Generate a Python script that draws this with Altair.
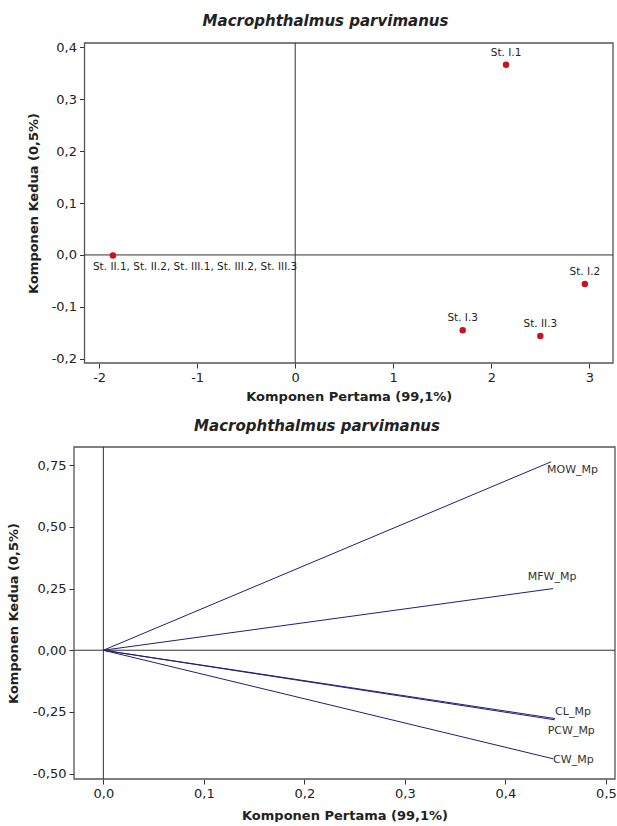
import altair as alt
import pandas as pd

# ---------------- data: top panel (scores) ----------------
station_labels = ["St. I.1", "St. I.2", "St. I.3", "St. II.3",
                  "St. II.1, St. II.2, St. III.1, St. III.2, St. III.3"]
score_pc1 = [2.15, 2.954, 1.708, 2.50, -1.859]
score_pc2 = [0.366, -0.056, -0.145, -0.156, -0.001]

# ---------------- data: bottom panel (loadings) ----------------
variables = ["MOW_Mp", "MFW_Mp", "CL_Mp", "PCW_Mp", "CW_Mp"]
load_pc1 = [0.4454, 0.4474, 0.4494, 0.4490, 0.4474]
load_pc2 = [0.764, 0.250, -0.277, -0.282, -0.440]

# axis domains and ticks
top_x_domain = [-2.149, 3.241]
top_y_domain = [-0.208, 0.408]
top_x_ticks = [-2, -1, 0, 1, 2, 3]
top_y_ticks = [-0.2, -0.1, 0.0, 0.1, 0.2, 0.3, 0.4]
bot_x_domain = [-0.0292, 0.509]
bot_y_domain = [-0.522, 0.824]
bot_x_ticks = [0.0, 0.1, 0.2, 0.3, 0.4, 0.5]
bot_y_ticks = [-0.5, -0.25, 0.0, 0.25, 0.5, 0.75]

TITLE = "Macrophthalmus parvimanus"
XTITLE = "Komponen Pertama (99,1%)"
YTITLE = "Komponen Kedua (0,5%)"

FONT = "DejaVu Sans"
TXT = "#222222"
FRAME = "#555555"
W = 541


def num_expr(fmt):
    return ("(datum.value < 0 ? '-' : '') + "
            f"replace(format(abs(datum.value), '{fmt}'), '.', ',')")


def axis(values, fmt, title, orient, **kw):
    return alt.Axis(values=values, labelExpr=num_expr(fmt), title=title,
                    orient=orient, domain=False, grid=False, ticks=True,
                    tickSize=5, tickColor="#333333", tickWidth=1,
                    labelPadding=3, labelFont=FONT, labelFontSize=13,
                    labelColor=TXT, labelFlush=False, labelOverlap=False,
                    titleFont=FONT, titleFontSize=13, titleFontWeight="bold",
                    titleColor=TXT, **kw)


def frame_df(xd, yd):
    return pd.DataFrame({"x0": [xd[0]], "x1": [xd[1]], "y0": [yd[0]],
                         "y1": [yd[1]], "z": [0.0]})


# ================= top panel =================
tx_scale = alt.Scale(domain=top_x_domain, nice=False, zero=False,
                     rangeMin=10.5, rangeMax=539)
ty_scale = alt.Scale(domain=top_y_domain, nice=False, zero=False)
tx_axis = axis(top_x_ticks, "d", XTITLE, "bottom", titlePadding=6)
ty_axis = axis(top_y_ticks, ".1f", YTITLE, "left", offset=-10.5,
               titleX=-51, titleBaseline="middle", titleAngle=270)


def TX(f):
    return alt.X(f, type="quantitative", scale=tx_scale, axis=tx_axis)


def TY(f):
    return alt.Y(f, type="quantitative", scale=ty_scale, axis=ty_axis)


tf = alt.Chart(frame_df(top_x_domain, top_y_domain))
t_frame = tf.mark_rect(fill="transparent", stroke=FRAME, strokeWidth=1.3).encode(
    x=TX("x0"), x2="x1", y=TY("y0"), y2="y1")
t_vline = tf.mark_rule(color="#333333", strokeWidth=1).encode(
    x=TX("z"), y=TY("y0"), y2="y1")
t_hline = tf.mark_rule(color="#333333", strokeWidth=1).encode(
    x=TX("x0"), x2="x1", y=TY("z"))

scores = pd.DataFrame({"label": station_labels, "pc1": score_pc1,
                       "pc2": score_pc2})
base_t = alt.Chart(scores).encode(x=TX("pc1"), y=TY("pc2"))
t_pts = base_t.mark_circle(size=42, color="#c8141e", opacity=1)
combined = station_labels[-1]
t_lab_up = base_t.transform_filter(alt.datum.label != combined).mark_text(
    font=FONT, fontSize=10.5, color=TXT, align="center", baseline="middle",
    dy=-12).encode(text="label:N")
t_lab_dn = base_t.transform_filter(alt.datum.label == combined).mark_text(
    font=FONT, fontSize=10.5, color=TXT, align="left", baseline="middle",
    dx=-20, dy=12).encode(text="label:N")

top = alt.layer(t_frame, t_vline, t_hline, t_pts, t_lab_up, t_lab_dn).properties(
    width=W, height=320,
    title=alt.TitleParams(TITLE, font=FONT, fontSize=15, fontWeight="bold",
                          fontStyle="italic", color=TXT, anchor="middle",
                          frame="group", dx=-19, offset=12.5),
)

# ================= bottom panel =================
bx_scale = alt.Scale(domain=bot_x_domain, nice=False, zero=False)
by_scale = alt.Scale(domain=bot_y_domain, nice=False, zero=False)
bx_axis = axis(bot_x_ticks, ".1f", XTITLE, "bottom", titlePadding=9)
by_axis = axis(bot_y_ticks, ".2f", YTITLE, "left", minExtent=74,
               titleX=-60.2, titleBaseline="middle", titleAngle=270)


def BX(f):
    return alt.X(f, type="quantitative", scale=bx_scale, axis=bx_axis)


def BY(f):
    return alt.Y(f, type="quantitative", scale=by_scale, axis=by_axis)


bf = alt.Chart(frame_df(bot_x_domain, bot_y_domain))
b_frame = bf.mark_rect(fill="transparent", stroke=FRAME, strokeWidth=1.3).encode(
    x=BX("x0"), x2="x1", y=BY("y0"), y2="y1")
b_vline = bf.mark_rule(color="#333333", strokeWidth=1).encode(
    x=BX("z"), y=BY("y0"), y2="y1")
b_hline = bf.mark_rule(color="#333333", strokeWidth=1).encode(
    x=BX("x0"), x2="x1", y=BY("z"))

loads = pd.DataFrame({"var": variables, "pc1": load_pc1, "pc2": load_pc2,
                      "o": [0.0] * len(variables)})
b_vec = alt.Chart(loads).mark_rule(color="#1f1f78", strokeWidth=1).encode(
    x=BX("o"), y=BY("o"), x2="pc1", y2="pc2")
base_b = alt.Chart(loads).encode(x=BX("pc1"), y=BY("pc2"), text="var:N")
label_style = {
    "MOW_Mp": dict(align="left", dx=-4, dy=8),
    "MFW_Mp": dict(align="center", dx=-1, dy=-12),
    "CL_Mp": dict(align="left", dx=0, dy=-7),
    "PCW_Mp": dict(align="left", dx=-7, dy=11),
    "CW_Mp": dict(align="left", dx=0, dy=1),
}
b_labels = [
    base_b.transform_filter(alt.datum["var"] == v).mark_text(
        font=FONT, fontSize=11, color="#333333", baseline="middle",
        **label_style[v])
    for v in variables
]

bottom = alt.layer(b_frame, b_vline, b_hline, b_vec, *b_labels).properties(
    width=W, height=332,
    title=alt.TitleParams(TITLE, font=FONT, fontSize=15, fontWeight="bold",
                          fontStyle="italic", color=TXT, anchor="middle",
                          frame="group", dx=-27.5, offset=12),
)

chart = alt.vconcat(top, bottom, spacing=16).properties(
    padding={"left": 0, "top": 13, "right": 0, "bottom": 0},
    background="white",
).configure_view(stroke=None)

chart.save("out.html", embed_options={"renderer": "svg", "actions": False})
